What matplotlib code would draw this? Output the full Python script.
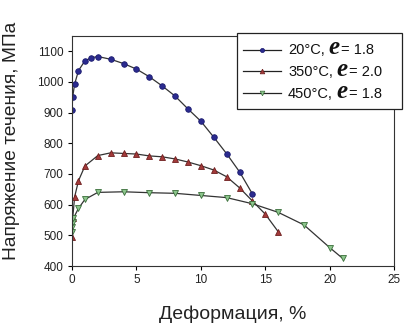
import matplotlib.pyplot as plt
from matplotlib.font_manager import FontProperties
from matplotlib.lines import Line2D
from matplotlib.patches import Rectangle

plt.rcParams['font.family'] = ['Liberation Sans', 'DejaVu Sans']

# 20 C
x20 = [0, 0.05, 0.2, 0.5, 1, 1.5, 2, 3, 4, 5, 6, 7, 8, 9, 10, 11, 12, 13, 14]
y20 = [910, 951, 993, 1037, 1069, 1079, 1083, 1074, 1060, 1042, 1017, 987, 954, 912,
       872, 820, 766, 707, 635]

# 350 C
x350 = [0, 0.05, 0.2, 0.5, 1, 2, 3, 4, 5, 6, 7, 8, 9, 10, 11, 12, 13, 14, 15, 16]
y350 = [495, 555, 625, 678, 726, 760, 769, 767, 765, 759, 756, 749, 739, 727, 713,
        691, 655, 612, 569, 512]

# 450 C
x450 = [0, 0.03, 0.06, 0.1, 0.5, 1, 2, 4, 6, 8, 10, 12, 14, 16, 18, 20, 21]
y450 = [510, 526, 542, 555, 588, 617, 640, 642, 639, 637, 630, 623, 603, 575, 534,
        460, 425]

prefixes = ["20°C,", "350°C,", "450°C,"]
suffixes = ["= 1.8", "= 2.0", "= 1.8"]

W, H = 414, 324
fig = plt.figure(figsize=(W / 100, H / 100), dpi=100)
ax = fig.add_axes([0.174, 0.179, 0.778, 0.710])

styles = [
    dict(marker="o", ms=4, mfc="#2b2b8f", mec="#1a1a6e"),
    dict(marker="^", ms=4.5, mfc="#a33a3a", mec="#6e1f1f"),
    dict(marker="v", ms=4.5, mfc="#8cc58c", mec="#3a6e3a"),
]
for xs, ys, st in zip([x20, x350, x450], [y20, y350, y450], styles):
    ax.plot(xs, ys, color="#333333", lw=0.9, mew=0.6, **st)

ax.set_xlim(0, 25)
ax.set_ylim(400, 1150)
ax.set_xticks([0, 5, 10, 15, 20, 25])
ax.set_yticks(range(400, 1101, 100))
ax.tick_params(labelsize=8.5, length=3, width=0.8, direction="out", pad=3,
               labelcolor="#222222")
for s in ax.spines.values():
    s.set_linewidth(0.8)
    s.set_color("#333333")

ax.set_xlabel("Деформация, %", fontsize=14, color="#222222")
ax.set_ylabel("Напряжение течения, МПа", fontsize=13.8, color="#222222")
ax.xaxis.set_label_coords(0.5, -0.172)
ax.yaxis.set_label_coords(-0.162, 0.545)

# hand-made legend (the big italic "e" needs its own size)
def fx(px):
    return px / W


def fy(py):
    return 1 - py / H


fig.add_artist(Rectangle((fx(237), fy(109)), fx(402) - fx(237), fy(33) - fy(109),
                         transform=fig.transFigure, facecolor="white",
                         edgecolor="#222222", lw=0.9, zorder=5))
fig.canvas.draw()
r = fig.canvas.get_renderer()
fs = 10.5
fp = FontProperties(family="Liberation Sans", size=fs)
fpe = FontProperties(family="Liberation Serif", size=18, style="italic", weight="bold")
rows = [50, 71, 93]
for row, st, pre, suf in zip(rows, styles, prefixes, suffixes):
    fig.add_artist(Line2D([fx(243), fx(281)], [fy(row), fy(row)], transform=fig.transFigure,
                          color="#222222", lw=0.9, zorder=6))
    mst = dict(st)
    mst["ms"] = st["ms"] * 0.75
    fig.add_artist(Line2D([fx(262)], [fy(row)], transform=fig.transFigure,
                          mew=0.5, zorder=7, **mst))
    x0 = 288
    base = fy(row + 4.5)
    fig.text(fx(x0), base, pre, fontproperties=fp, color="#111111",
             va="baseline", ha="left", zorder=8)
    w1, _, _ = r.get_text_width_height_descent(pre, fp, ismath=False)
    xe = x0 + w1 + 4
    fig.text(fx(xe), base, "e", fontproperties=fpe, color="#111111",
             va="baseline", ha="left", zorder=8)
    we, _, _ = r.get_text_width_height_descent("e", fpe, ismath=False)
    fig.text(fx(xe + we + 1.5), base, suf, fontproperties=fp, color="#111111",
             va="baseline", ha="left", zorder=8)

fig.savefig("out.png", dpi=100)
